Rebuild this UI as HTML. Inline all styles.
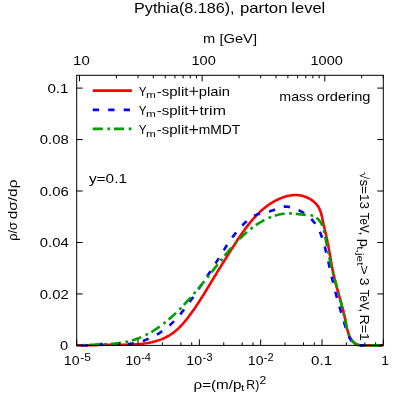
<!DOCTYPE html>
<html><head><meta charset="utf-8"><title>plot</title>
<style>
html,body{margin:0;padding:0;background:#fff;}
svg{display:block;}
text{font-family:"Liberation Sans",sans-serif;fill:#000;}
</style></head><body>
<svg width="407" height="407" viewBox="0 0 407 407">
<rect width="407" height="407" fill="#fff"/>
<g fill="none" stroke-width="2.6" stroke-linejoin="round">
<path id="cr" stroke="#ff0000" d="M76.7,345.3 L78.2,345.4 L79.7,345.4 L81.2,345.4 L82.7,345.4 L84.2,345.4 L85.7,345.4 L87.2,345.4 L88.8,345.3 L90.3,345.3 L91.8,345.2 L93.3,345.2 L94.8,345.1 L96.3,345.1 L97.8,345.0 L99.3,345.0 L100.8,344.9 L102.3,344.8 L103.9,344.8 L105.4,344.8 L106.9,344.7 L108.4,344.7 L109.9,344.7 L111.4,344.7 L112.9,344.7 L114.4,344.7 L115.9,344.7 L117.4,344.7 L118.9,344.7 L120.4,344.7 L121.9,344.7 L123.4,344.7 L124.9,344.7 L126.4,344.7 L127.9,344.7 L129.4,344.6 L130.9,344.6 L132.4,344.5 L133.9,344.5 L135.4,344.4 L136.9,344.3 L138.5,344.2 L140.0,344.0 L141.5,343.9 L143.0,343.7 L144.5,343.5 L146.0,343.3 L147.5,343.0 L149.0,342.8 L150.5,342.5 L152.0,342.2 L153.4,341.8 L154.9,341.4 L156.4,341.0 L157.8,340.6 L159.2,340.1 L160.6,339.6 L162.0,339.1 L163.4,338.5 L164.8,337.9 L166.1,337.2 L167.4,336.5 L168.7,335.8 L170.0,335.0 L171.2,334.2 L172.4,333.4 L173.6,332.5 L174.8,331.6 L175.9,330.6 L177.1,329.6 L178.2,328.6 L179.2,327.6 L180.3,326.5 L181.3,325.4 L182.4,324.3 L183.4,323.2 L184.4,322.0 L185.3,320.8 L186.3,319.6 L187.3,318.5 L188.2,317.2 L189.1,316.0 L190.0,314.8 L190.9,313.6 L191.8,312.3 L192.7,311.1 L193.6,309.9 L194.5,308.6 L195.3,307.4 L196.2,306.1 L197.0,304.8 L197.8,303.6 L198.7,302.3 L199.5,301.0 L200.3,299.8 L201.1,298.5 L201.9,297.2 L202.7,295.9 L203.5,294.7 L204.3,293.4 L205.1,292.1 L205.9,290.8 L206.7,289.5 L207.5,288.2 L208.2,287.0 L209.0,285.7 L209.8,284.4 L210.6,283.1 L211.3,281.8 L212.1,280.6 L212.9,279.3 L213.7,278.0 L214.4,276.7 L215.2,275.5 L216.0,274.2 L216.8,272.9 L217.5,271.6 L218.3,270.4 L219.1,269.1 L219.9,267.8 L220.7,266.6 L221.4,265.3 L222.2,264.0 L223.0,262.8 L223.8,261.5 L224.6,260.2 L225.4,259.0 L226.2,257.7 L227.0,256.4 L227.8,255.2 L228.6,253.9 L229.4,252.6 L230.2,251.4 L231.0,250.1 L231.8,248.8 L232.6,247.5 L233.5,246.2 L234.3,245.0 L235.1,243.7 L235.9,242.4 L236.8,241.1 L237.6,239.8 L238.5,238.6 L239.3,237.3 L240.2,236.0 L241.0,234.8 L241.9,233.5 L242.8,232.2 L243.7,231.0 L244.6,229.8 L245.5,228.5 L246.4,227.3 L247.3,226.1 L248.2,224.9 L249.2,223.7 L250.1,222.5 L251.1,221.3 L252.1,220.2 L253.1,219.0 L254.1,217.9 L255.1,216.8 L256.1,215.7 L257.1,214.6 L258.2,213.6 L259.3,212.6 L260.3,211.5 L261.4,210.5 L262.6,209.6 L263.7,208.6 L264.8,207.7 L266.0,206.8 L267.2,205.9 L268.4,205.0 L269.6,204.2 L270.8,203.4 L272.1,202.6 L273.3,201.8 L274.6,201.1 L275.9,200.4 L277.3,199.8 L278.6,199.1 L280.0,198.5 L281.4,198.0 L282.8,197.4 L284.2,196.9 L285.7,196.5 L287.1,196.1 L288.6,195.7 L290.1,195.5 L291.6,195.2 L293.1,195.1 L294.6,195.0 L296.1,195.0 L297.6,195.1 L299.1,195.2 L300.7,195.5 L302.2,195.8 L303.7,196.3 L305.1,196.8 L306.6,197.3 L308.0,198.0 L309.3,198.7 L310.6,199.4 L311.9,200.2 L313.1,201.1 L314.2,202.1 L315.3,203.1 L316.3,204.1 L317.2,205.2 L318.1,206.4 L318.8,207.7 L319.5,209.0 L320.0,210.3 L320.6,211.7 L321.0,213.2 L321.4,214.6 L321.8,216.1 L322.1,217.6 L322.5,219.1 L322.8,220.7 L323.1,222.2 L323.4,223.7 L323.7,225.1 L324.1,226.6 L324.4,228.1 L324.7,229.5 L325.1,231.0 L325.4,232.4 L325.8,233.9 L326.1,235.3 L326.4,236.8 L326.7,238.2 L327.1,239.7 L327.4,241.2 L327.6,242.7 L327.9,244.1 L328.2,245.6 L328.5,247.1 L328.8,248.6 L329.0,250.1 L329.3,251.6 L329.6,253.1 L329.8,254.6 L330.1,256.1 L330.4,257.6 L330.6,259.1 L330.9,260.6 L331.1,262.1 L331.4,263.6 L331.7,265.1 L332.0,266.6 L332.2,268.1 L332.5,269.6 L332.8,271.1 L333.1,272.6 L333.4,274.0 L333.8,275.5 L334.1,277.0 L334.4,278.4 L334.8,279.9 L335.1,281.3 L335.5,282.8 L335.9,284.2 L336.3,285.6 L336.7,287.0 L337.1,288.5 L337.5,289.9 L337.9,291.3 L338.3,292.7 L338.7,294.2 L339.1,295.6 L339.5,297.0 L339.9,298.5 L340.3,299.9 L340.7,301.3 L341.1,302.8 L341.5,304.2 L341.9,305.7 L342.3,307.1 L342.7,308.6 L343.1,310.1 L343.5,311.6 L343.8,313.1 L344.2,314.6 L344.5,316.1 L344.8,317.6 L345.2,319.1 L345.5,320.7 L345.8,322.3 L346.1,323.8 L346.4,325.4 L346.7,326.9 L347.0,328.5 L347.4,330.0 L347.8,331.5 L348.3,333.0 L348.7,334.4 L349.3,335.8 L349.9,337.1 L350.6,338.3 L351.3,339.5 L352.1,340.7 L353.1,341.7 L354.1,342.6 L355.2,343.4 L356.4,344.1 L357.6,344.6 L359.0,345.0 L360.4,345.4 L361.8,345.4 L363.3,345.4 L364.9,345.4 L366.4,345.4 L368.0,345.4 L369.6,345.4 L371.2,345.4 L372.8,345.4 L374.4,345.4 L376.0,345.4 L377.5,345.4 L379.0,345.4 L380.4,345.4 L381.8,345.4 L383.1,345.4"/>
<path id="cb" stroke="#0000ff" stroke-dasharray="6.3 9.2" stroke-dashoffset="10.95" d="M76.7,345.3 L78.2,345.4 L79.8,345.4 L81.3,345.4 L82.8,345.4 L84.3,345.4 L85.8,345.4 L87.2,345.3 L88.7,345.1 L90.2,345.0 L91.7,344.9 L93.2,344.8 L94.7,344.8 L96.2,344.7 L97.7,344.7 L99.2,344.7 L100.7,344.7 L102.2,344.7 L103.8,344.7 L105.3,344.7 L106.8,344.7 L108.4,344.8 L109.9,344.8 L111.4,344.8 L113.0,344.8 L114.5,344.8 L116.0,344.8 L117.6,344.8 L119.1,344.8 L120.6,344.7 L122.2,344.7 L123.7,344.6 L125.2,344.5 L126.7,344.3 L128.2,344.2 L129.7,344.0 L131.2,343.8 L132.7,343.5 L134.1,343.3 L135.6,343.0 L137.1,342.6 L138.5,342.2 L140.0,341.8 L141.4,341.4 L142.8,341.0 L144.2,340.5 L145.6,339.9 L147.0,339.4 L148.4,338.8 L149.8,338.2 L151.1,337.6 L152.5,336.9 L153.8,336.3 L155.1,335.6 L156.4,334.8 L157.7,334.1 L159.0,333.3 L160.2,332.5 L161.5,331.6 L162.7,330.8 L163.9,329.9 L165.1,329.0 L166.3,328.1 L167.5,327.1 L168.6,326.2 L169.8,325.2 L170.9,324.2 L172.0,323.1 L173.1,322.1 L174.1,321.0 L175.2,319.9 L176.2,318.8 L177.2,317.7 L178.3,316.6 L179.2,315.4 L180.2,314.3 L181.2,313.1 L182.1,311.9 L183.1,310.7 L184.0,309.5 L184.9,308.3 L185.9,307.1 L186.8,305.8 L187.7,304.6 L188.6,303.4 L189.5,302.1 L190.3,300.9 L191.2,299.7 L192.1,298.4 L193.0,297.2 L193.8,295.9 L194.7,294.7 L195.6,293.4 L196.4,292.2 L197.3,291.0 L198.1,289.7 L199.0,288.5 L199.8,287.2 L200.7,286.0 L201.5,284.8 L202.4,283.5 L203.2,282.3 L204.0,281.0 L204.9,279.8 L205.7,278.5 L206.5,277.3 L207.4,276.0 L208.2,274.8 L209.0,273.5 L209.8,272.3 L210.6,271.0 L211.5,269.8 L212.3,268.5 L213.1,267.3 L213.9,266.0 L214.7,264.7 L215.5,263.5 L216.3,262.2 L217.1,260.9 L217.9,259.6 L218.7,258.4 L219.5,257.1 L220.3,255.8 L221.1,254.5 L221.9,253.2 L222.7,251.9 L223.5,250.6 L224.3,249.4 L225.1,248.1 L225.9,246.8 L226.7,245.5 L227.6,244.3 L228.4,243.0 L229.3,241.8 L230.1,240.5 L231.0,239.3 L231.9,238.1 L232.8,236.8 L233.7,235.6 L234.6,234.4 L235.5,233.2 L236.4,232.0 L237.4,230.9 L238.4,229.7 L239.4,228.6 L240.4,227.5 L241.4,226.4 L242.5,225.3 L243.5,224.2 L244.6,223.1 L245.8,222.1 L246.9,221.1 L248.1,220.1 L249.2,219.1 L250.5,218.2 L251.7,217.4 L253.0,216.6 L254.2,215.8 L255.6,215.2 L256.9,214.6 L258.3,214.1 L259.7,213.7 L261.1,213.3 L262.6,213.0 L264.1,212.7 L265.5,212.4 L267.0,212.0 L268.5,211.7 L270.0,211.3 L271.5,210.8 L273.0,210.3 L274.5,209.7 L276.0,209.1 L277.4,208.4 L278.9,207.9 L280.3,207.4 L281.8,207.0 L283.2,206.7 L284.6,206.6 L286.1,206.6 L287.5,206.7 L288.9,206.9 L290.3,207.2 L291.7,207.5 L293.1,207.9 L294.5,208.4 L295.9,209.0 L297.3,209.5 L298.7,210.2 L300.0,210.9 L301.4,211.6 L302.7,212.4 L304.0,213.3 L305.3,214.1 L306.6,215.1 L307.8,216.0 L309.0,217.0 L310.2,218.0 L311.3,219.1 L312.3,220.2 L313.3,221.4 L314.3,222.5 L315.2,223.7 L316.0,224.9 L316.8,226.2 L317.6,227.4 L318.3,228.7 L319.0,230.0 L319.6,231.4 L320.2,232.7 L320.8,234.1 L321.3,235.5 L321.8,236.9 L322.3,238.3 L322.8,239.7 L323.2,241.1 L323.6,242.6 L324.0,244.0 L324.4,245.5 L324.8,246.9 L325.2,248.4 L325.6,249.9 L325.9,251.3 L326.3,252.8 L326.6,254.3 L327.0,255.8 L327.3,257.3 L327.7,258.7 L328.0,260.2 L328.3,261.7 L328.7,263.2 L329.0,264.7 L329.3,266.1 L329.7,267.6 L330.0,269.1 L330.3,270.6 L330.7,272.1 L331.0,273.6 L331.3,275.0 L331.6,276.5 L332.0,278.0 L332.3,279.5 L332.7,281.0 L333.0,282.4 L333.3,283.9 L333.7,285.4 L334.0,286.8 L334.4,288.3 L334.8,289.7 L335.1,291.2 L335.5,292.7 L335.9,294.1 L336.3,295.6 L336.7,297.0 L337.1,298.4 L337.5,299.9 L337.9,301.3 L338.3,302.7 L338.7,304.2 L339.1,305.6 L339.5,307.0 L340.0,308.5 L340.4,309.9 L340.8,311.3 L341.3,312.8 L341.7,314.2 L342.1,315.7 L342.6,317.1 L343.0,318.6 L343.4,320.0 L343.9,321.5 L344.3,323.0 L344.7,324.5 L345.2,325.9 L345.6,327.4 L346.0,328.9 L346.5,330.4 L347.0,331.9 L347.5,333.3 L348.1,334.7 L348.7,336.1 L349.3,337.5 L350.1,338.8 L350.8,340.0 L351.7,341.2 L352.7,342.3 L353.8,343.2 L354.9,343.9 L356.2,344.5 L357.6,345.0 L359.0,345.4 L360.4,345.4 L361.9,345.4 L363.4,345.4 L365.0,345.4 L366.5,345.4 L368.1,345.4 L369.6,345.4 L371.2,345.4 L372.8,345.4 L374.3,345.4 L375.9,345.4 L377.4,345.4 L378.9,345.4 L380.4,345.4 L381.8,345.4 L383.2,345.4"/>
<path stroke="#00a000" stroke-dasharray="10.1 4.6 2.8 3.8" stroke-dashoffset="8.60" d="M76.9,345.4 L78.3,345.4 L79.8,345.4 L81.2,345.3 L82.6,345.2 L84.1,345.1 L85.6,345.1 L87.1,345.0 L88.6,344.9 L90.1,344.8 L91.6,344.8 L93.1,344.7 L94.6,344.7 L96.1,344.6 L97.6,344.6 L99.1,344.5 L100.7,344.4 L102.2,344.4 L103.7,344.3 L105.3,344.2 L106.8,344.2 L108.3,344.1 L109.9,344.0 L111.4,343.8 L112.9,343.7 L114.5,343.6 L116.0,343.4 L117.5,343.2 L119.0,343.1 L120.5,342.8 L122.0,342.6 L123.5,342.4 L125.0,342.1 L126.5,341.8 L128.0,341.5 L129.4,341.1 L130.9,340.8 L132.3,340.4 L133.7,339.9 L135.1,339.5 L136.5,339.0 L137.9,338.5 L139.3,338.0 L140.7,337.4 L142.1,336.8 L143.4,336.2 L144.8,335.6 L146.1,334.9 L147.4,334.2 L148.7,333.5 L150.0,332.8 L151.3,332.1 L152.6,331.3 L153.8,330.5 L155.1,329.7 L156.4,328.9 L157.6,328.0 L158.8,327.2 L160.0,326.3 L161.3,325.4 L162.5,324.5 L163.7,323.6 L164.8,322.7 L166.0,321.7 L167.2,320.7 L168.3,319.8 L169.5,318.8 L170.6,317.8 L171.7,316.8 L172.9,315.8 L174.0,314.7 L175.1,313.7 L176.2,312.6 L177.3,311.6 L178.3,310.5 L179.4,309.5 L180.5,308.4 L181.5,307.3 L182.6,306.2 L183.6,305.1 L184.7,304.0 L185.7,303.0 L186.7,301.8 L187.7,300.7 L188.7,299.6 L189.7,298.5 L190.7,297.4 L191.7,296.3 L192.7,295.1 L193.7,294.0 L194.6,292.9 L195.6,291.7 L196.6,290.6 L197.5,289.4 L198.5,288.3 L199.5,287.1 L200.4,286.0 L201.4,284.8 L202.3,283.7 L203.3,282.5 L204.2,281.3 L205.1,280.2 L206.1,279.0 L207.0,277.8 L208.0,276.7 L208.9,275.5 L209.8,274.3 L210.8,273.1 L211.7,272.0 L212.6,270.8 L213.6,269.6 L214.5,268.4 L215.4,267.2 L216.4,266.1 L217.3,264.9 L218.3,263.7 L219.2,262.5 L220.2,261.3 L221.1,260.1 L222.1,259.0 L223.0,257.8 L224.0,256.6 L224.9,255.4 L225.9,254.2 L226.9,253.1 L227.9,251.9 L228.8,250.7 L229.8,249.6 L230.8,248.4 L231.8,247.3 L232.8,246.2"/>
<path stroke="#00a000" stroke-dasharray="10.1 4.6 2.8 3.8" stroke-dashoffset="11.35" d="M232.8,246.2 L233.9,245.0 L234.9,243.9 L235.9,242.8 L236.9,241.7 L238.0,240.6 L239.0,239.5 L240.1,238.4 L241.2,237.4 L242.2,236.3 L243.3,235.3 L244.4,234.3 L245.6,233.3 L246.7,232.3 L247.8,231.3 L249.0,230.3 L250.1,229.4 L251.3,228.5 L252.5,227.5 L253.7,226.7 L254.9,225.8 L256.1,224.9 L257.3,224.1 L258.6,223.3 L259.9,222.5 L261.1,221.8 L262.4,221.0 L263.7,220.3 L265.1,219.6 L266.4,219.0 L267.8,218.3 L269.1,217.7 L270.5,217.2 L271.9,216.6 L273.3,216.1 L274.7,215.7 L276.2,215.2 L277.6,214.9 L279.1,214.5 L280.5,214.2 L282.0,214.0 L283.5,213.8 L284.9,213.6 L286.4,213.5 L287.9,213.4 L289.5,213.4 L291.0,213.5 L292.5,213.6 L294.0,213.7 L295.5,213.8 L297.1,214.0 L298.6,214.2 L300.2,214.4 L301.7,214.5 L303.2,214.7 L304.8,214.8 L306.3,214.9 L307.8,215.0 L309.3,215.1 L310.8,215.2 L312.2,215.6 L313.6,216.1 L314.9,216.8 L316.2,217.5 L317.3,218.4 L318.3,219.4 L319.2,220.4 L320.1,221.5 L320.8,222.7 L321.5,223.9 L322.1,225.2 L322.7,226.6 L323.2,228.0 L323.6,229.4 L324.0,230.9 L324.4,232.4 L324.7,233.9 L325.0,235.5 L325.3,237.0 L325.6,238.6 L325.8,240.2 L326.1,241.7 L326.4,243.3 L326.7,244.8 L326.9,246.3 L327.2,247.8 L327.5,249.3 L327.8,250.8 L328.2,252.3 L328.5,253.8 L328.8,255.3 L329.1,256.7 L329.4,258.2 L329.8,259.6 L330.1,261.1 L330.5,262.5 L330.8,264.0 L331.1,265.4 L331.5,266.9 L331.9,268.3 L332.2,269.7 L332.6,271.2 L333.0,272.6 L333.3,274.0 L333.7,275.5 L334.1,276.9 L334.5,278.3 L334.9,279.8 L335.2,281.2 L335.6,282.7 L336.0,284.1 L336.4,285.6 L336.8,287.0 L337.2,288.4 L337.6,289.9 L338.0,291.3 L338.4,292.8 L338.8,294.3 L339.2,295.7 L339.5,297.2 L339.9,298.6 L340.3,300.1 L340.7,301.6 L341.1,303.0 L341.4,304.5 L341.8,306.0 L342.2,307.5 L342.5,309.0 L342.9,310.4 L343.3,311.9 L343.6,313.4 L343.9,314.9 L344.3,316.4 L344.6,317.9 L344.9,319.4 L345.2,320.9 L345.5,322.4 L345.8,323.9 L346.2,325.4 L346.5,326.9 L346.9,328.4 L347.2,329.9 L347.7,331.3 L348.1,332.7 L348.6,334.1 L349.2,335.5 L349.8,336.8 L350.5,338.1 L351.3,339.4 L352.1,340.6 L353.0,341.8 L354.0,342.8 L355.1,343.7 L356.3,344.4 L357.6,344.9 L358.9,345.3 L360.3,345.4 L361.8,345.4 L363.3,345.4 L364.9,345.4 L366.4,345.4 L368.0,345.4 L369.7,345.4 L371.3,345.4 L372.9,345.4 L374.5,345.4 L376.0,345.4 L377.5,345.4 L379.0,345.4 L380.4,345.4 L381.8,345.4 L383.1,345.4"/>
<line x1="92.7" y1="90.6" x2="131.9" y2="90.6" stroke="#ff0000"/>
<line x1="92.7" y1="109.9" x2="131.9" y2="109.9" stroke="#0000ff" stroke-dasharray="6.3 9.2"/>
<line x1="92.7" y1="128.9" x2="131.9" y2="128.9" stroke="#00a000" stroke-dasharray="10.1 4.6 2.8 3.8"/>
</g>
<g stroke="#000" stroke-width="1" fill="none">
<rect x="76.70" y="75.30" width="306.60" height="270.10"/>
<line x1="76.70" y1="345.40" x2="76.70" y2="339.40"/><line x1="101.10" y1="345.40" x2="101.10" y2="342.40"/><line x1="119.56" y1="345.40" x2="119.56" y2="342.40"/><line x1="130.36" y1="345.40" x2="130.36" y2="342.40"/><line x1="138.02" y1="345.40" x2="138.02" y2="339.40"/><line x1="162.42" y1="345.40" x2="162.42" y2="342.40"/><line x1="180.88" y1="345.40" x2="180.88" y2="342.40"/><line x1="191.68" y1="345.40" x2="191.68" y2="342.40"/><line x1="199.34" y1="345.40" x2="199.34" y2="339.40"/><line x1="223.74" y1="345.40" x2="223.74" y2="342.40"/><line x1="242.20" y1="345.40" x2="242.20" y2="342.40"/><line x1="253.00" y1="345.40" x2="253.00" y2="342.40"/><line x1="260.66" y1="345.40" x2="260.66" y2="339.40"/><line x1="285.06" y1="345.40" x2="285.06" y2="342.40"/><line x1="303.52" y1="345.40" x2="303.52" y2="342.40"/><line x1="314.32" y1="345.40" x2="314.32" y2="342.40"/><line x1="321.98" y1="345.40" x2="321.98" y2="339.40"/><line x1="346.38" y1="345.40" x2="346.38" y2="342.40"/><line x1="364.84" y1="345.40" x2="364.84" y2="342.40"/><line x1="375.64" y1="345.40" x2="375.64" y2="342.40"/><line x1="383.30" y1="345.40" x2="383.30" y2="339.40"/><line x1="79.51" y1="75.30" x2="79.51" y2="81.30"/><line x1="202.15" y1="75.30" x2="202.15" y2="81.30"/><line x1="324.79" y1="75.30" x2="324.79" y2="81.30"/><line x1="116.42" y1="75.30" x2="116.42" y2="78.30"/><line x1="138.02" y1="75.30" x2="138.02" y2="78.30"/><line x1="153.34" y1="75.30" x2="153.34" y2="78.30"/><line x1="165.23" y1="75.30" x2="165.23" y2="78.30"/><line x1="174.94" y1="75.30" x2="174.94" y2="78.30"/><line x1="183.15" y1="75.30" x2="183.15" y2="78.30"/><line x1="190.26" y1="75.30" x2="190.26" y2="78.30"/><line x1="196.53" y1="75.30" x2="196.53" y2="78.30"/><line x1="239.06" y1="75.30" x2="239.06" y2="78.30"/><line x1="260.66" y1="75.30" x2="260.66" y2="78.30"/><line x1="275.98" y1="75.30" x2="275.98" y2="78.30"/><line x1="287.87" y1="75.30" x2="287.87" y2="78.30"/><line x1="297.58" y1="75.30" x2="297.58" y2="78.30"/><line x1="305.79" y1="75.30" x2="305.79" y2="78.30"/><line x1="312.90" y1="75.30" x2="312.90" y2="78.30"/><line x1="319.17" y1="75.30" x2="319.17" y2="78.30"/><line x1="361.70" y1="75.30" x2="361.70" y2="78.30"/><line x1="383.30" y1="75.30" x2="383.30" y2="78.30"/><line x1="76.70" y1="345.40" x2="82.70" y2="345.40"/><line x1="383.30" y1="345.40" x2="377.30" y2="345.40"/><line x1="76.70" y1="293.94" x2="82.70" y2="293.94"/><line x1="383.30" y1="293.94" x2="377.30" y2="293.94"/><line x1="76.70" y1="242.48" x2="82.70" y2="242.48"/><line x1="383.30" y1="242.48" x2="377.30" y2="242.48"/><line x1="76.70" y1="191.02" x2="82.70" y2="191.02"/><line x1="383.30" y1="191.02" x2="377.30" y2="191.02"/><line x1="76.70" y1="139.56" x2="82.70" y2="139.56"/><line x1="383.30" y1="139.56" x2="377.30" y2="139.56"/><line x1="76.70" y1="88.10" x2="82.70" y2="88.10"/><line x1="383.30" y1="88.10" x2="377.30" y2="88.10"/>
</g>
<g opacity="0.999">
<text x="134.04" y="12.80" font-size="14.3" textLength="100.56" lengthAdjust="spacingAndGlyphs">Pythia(8.186),</text>
<text x="239.93" y="12.80" font-size="14.3" textLength="47.64" lengthAdjust="spacingAndGlyphs">parton</text>
<text x="291.38" y="12.80" font-size="14.3" textLength="33.80" lengthAdjust="spacingAndGlyphs">level</text>
<text x="202.97" y="42.70" font-size="12.2" textLength="12.19" lengthAdjust="spacingAndGlyphs">m</text>
<text x="219.40" y="42.70" font-size="12.2" textLength="37.66" lengthAdjust="spacingAndGlyphs">[GeV]</text>
<text x="73.07" y="64.90" font-size="12.2" textLength="16.71" lengthAdjust="spacingAndGlyphs">10</text>
<text x="191.44" y="64.90" font-size="12.2" textLength="24.35" lengthAdjust="spacingAndGlyphs">100</text>
<text x="310.44" y="64.90" font-size="12.2" textLength="32.43" lengthAdjust="spacingAndGlyphs">1000</text>
<text x="60.11" y="350.30" font-size="12.2" textLength="8.14" lengthAdjust="spacingAndGlyphs">0</text>
<text x="39.82" y="298.69" font-size="12.2" textLength="28.92" lengthAdjust="spacingAndGlyphs">0.02</text>
<text x="39.82" y="247.23" font-size="12.2" textLength="28.83" lengthAdjust="spacingAndGlyphs">0.04</text>
<text x="39.82" y="195.77" font-size="12.2" textLength="28.93" lengthAdjust="spacingAndGlyphs">0.06</text>
<text x="39.82" y="144.31" font-size="12.2" textLength="28.95" lengthAdjust="spacingAndGlyphs">0.08</text>
<text x="47.43" y="92.85" font-size="12.2" textLength="21.14" lengthAdjust="spacingAndGlyphs">0.1</text>
<text x="63.84" y="364.80" font-size="12.2" textLength="15.75" lengthAdjust="spacingAndGlyphs">10</text>
<text x="80.25" y="360.80" font-size="10.1" textLength="10.70" lengthAdjust="spacingAndGlyphs">-5</text>
<text x="125.46" y="364.80" font-size="12.2" textLength="15.48" lengthAdjust="spacingAndGlyphs">10</text>
<text x="141.19" y="360.80" font-size="10.1" textLength="9.82" lengthAdjust="spacingAndGlyphs">-4</text>
<text x="186.36" y="364.80" font-size="12.2" textLength="15.84" lengthAdjust="spacingAndGlyphs">10</text>
<text x="202.82" y="360.80" font-size="10.1" textLength="9.64" lengthAdjust="spacingAndGlyphs">-3</text>
<text x="247.87" y="364.80" font-size="12.2" textLength="15.66" lengthAdjust="spacingAndGlyphs">10</text>
<text x="263.83" y="360.80" font-size="10.1" textLength="9.81" lengthAdjust="spacingAndGlyphs">-2</text>
<text x="311.14" y="364.80" font-size="12.2" textLength="21.00" lengthAdjust="spacingAndGlyphs">0.1</text>
<text x="381.18" y="364.80" font-size="12.2" textLength="7.68" lengthAdjust="spacingAndGlyphs">1</text>
<text x="193.53" y="388.70" font-size="12.2" textLength="47.88" lengthAdjust="spacingAndGlyphs">ρ=(m/p</text>
<text x="241.04" y="390.90" font-size="9.9" textLength="3.30" lengthAdjust="spacingAndGlyphs">t</text>
<text x="246.31" y="388.70" font-size="12.2" textLength="12.94" lengthAdjust="spacingAndGlyphs">R)</text>
<text x="259.44" y="384.30" font-size="10.1" textLength="6.75" lengthAdjust="spacingAndGlyphs">2</text>
<text x="138.78" y="95.90" font-size="12.2" textLength="7.79" lengthAdjust="spacingAndGlyphs">Y</text>
<text x="146.10" y="98.10" font-size="9.9" textLength="9.88" lengthAdjust="spacingAndGlyphs">m</text>
<text x="156.75" y="95.90" font-size="12.2" textLength="31.67" lengthAdjust="spacingAndGlyphs">-split</text>
<text x="198.76" y="95.90" font-size="12.2" textLength="31.15" lengthAdjust="spacingAndGlyphs">plain</text>
<text x="138.78" y="115.10" font-size="12.2" textLength="7.79" lengthAdjust="spacingAndGlyphs">Y</text>
<text x="146.10" y="117.30" font-size="9.9" textLength="9.88" lengthAdjust="spacingAndGlyphs">m</text>
<text x="156.75" y="115.10" font-size="12.2" textLength="31.67" lengthAdjust="spacingAndGlyphs">-split</text>
<text x="199.43" y="115.10" font-size="12.2" textLength="26.47" lengthAdjust="spacingAndGlyphs">trim</text>
<text x="138.78" y="134.30" font-size="12.2" textLength="7.79" lengthAdjust="spacingAndGlyphs">Y</text>
<text x="146.10" y="136.50" font-size="9.9" textLength="9.88" lengthAdjust="spacingAndGlyphs">m</text>
<text x="156.75" y="134.30" font-size="12.2" textLength="31.67" lengthAdjust="spacingAndGlyphs">-split</text>
<text x="198.79" y="134.30" font-size="12.2" textLength="41.57" lengthAdjust="spacingAndGlyphs">mMDT</text>
<text x="279.31" y="101.10" font-size="12.2" textLength="34.04" lengthAdjust="spacingAndGlyphs">mass</text>
<text x="316.77" y="101.10" font-size="12.2" textLength="53.70" lengthAdjust="spacingAndGlyphs">ordering</text>
<text x="88.91" y="182.60" font-size="12.2" textLength="38.16" lengthAdjust="spacingAndGlyphs">y=0.1</text>
<path d="M189.40,91.20 H198.00 M193.70,86.90 V95.50" stroke="#000" stroke-width="1.05" fill="none"/>
<path d="M189.40,110.40 H198.00 M193.70,106.10 V114.70" stroke="#000" stroke-width="1.05" fill="none"/>
<path d="M189.40,129.60 H198.00 M193.70,125.30 V133.90" stroke="#000" stroke-width="1.05" fill="none"/>
<text transform="translate(17.30,240.80) rotate(-90)" font-size="12.2" textLength="18.65" lengthAdjust="spacingAndGlyphs">ρ/σ</text>
<text transform="translate(17.30,219.24) rotate(-90)" font-size="12.2" textLength="39.71" lengthAdjust="spacingAndGlyphs">dσ/dρ</text>
<text transform="translate(359.90,171.99) rotate(90)" font-size="12.2" textLength="36.97" lengthAdjust="spacingAndGlyphs">√s=13</text>
<text transform="translate(359.90,212.67) rotate(90)" font-size="12.2" textLength="19.97" lengthAdjust="spacingAndGlyphs">TeV</text>
<text transform="translate(359.90,231.56) rotate(90)" font-size="12.2" textLength="4.07" lengthAdjust="spacingAndGlyphs">,</text>
<text transform="translate(359.90,238.77) rotate(90)" font-size="12.2" textLength="8.14" lengthAdjust="spacingAndGlyphs">p</text>
<text transform="translate(357.40,246.25) rotate(90)" font-size="9.9" textLength="19.28" lengthAdjust="spacingAndGlyphs">t,jet</text>
<text transform="translate(359.90,265.34) rotate(90)" font-size="12.2" textLength="9.55" lengthAdjust="spacingAndGlyphs">&gt;</text>
<text transform="translate(359.90,277.76) rotate(90)" font-size="12.2" textLength="7.77" lengthAdjust="spacingAndGlyphs">3</text>
<text transform="translate(359.90,289.67) rotate(90)" font-size="12.2" textLength="19.98" lengthAdjust="spacingAndGlyphs">TeV</text>
<text transform="translate(359.90,308.30) rotate(90)" font-size="12.2" textLength="4.07" lengthAdjust="spacingAndGlyphs">,</text>
<text transform="translate(359.90,314.47) rotate(90)" font-size="12.2" textLength="26.58" lengthAdjust="spacingAndGlyphs">R=1</text>
</g>
</svg>
</body></html>
